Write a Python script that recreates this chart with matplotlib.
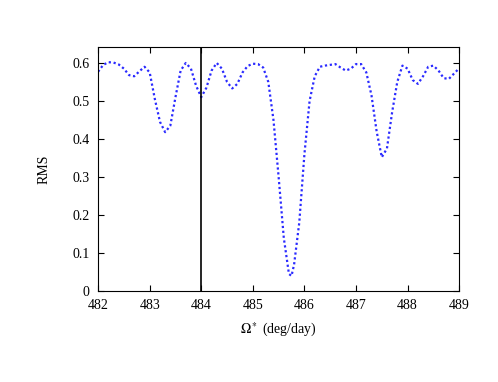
import matplotlib
matplotlib.use("Agg")
from matplotlib import pyplot as plt

omega = [482.0, 482.1, 482.2, 482.3, 482.4, 482.5, 482.6, 482.7, 482.8, 482.9,
         483.0, 483.1, 483.2, 483.3, 483.4, 483.5, 483.6, 483.7, 483.8, 483.9,
         484.0, 484.1, 484.2, 484.3, 484.4, 484.5, 484.6, 484.7, 484.8, 484.9,
         485.0, 485.1, 485.2, 485.3, 485.4, 485.5, 485.6, 485.7, 485.75, 485.8, 485.9,
         486.0, 486.1, 486.2, 486.3, 486.4, 486.5, 486.6, 486.7, 486.8, 486.9,
         487.0, 487.1, 487.2, 487.3, 487.4, 487.5, 487.6, 487.7, 487.8, 487.9,
         488.0, 488.1, 488.2, 488.3, 488.4, 488.5, 488.6, 488.7, 488.8, 488.9,
         489.0]
rms = [0.577, 0.595, 0.602, 0.601, 0.596, 0.585, 0.568, 0.565, 0.578, 0.590,
       0.575, 0.505, 0.445, 0.418, 0.435, 0.510, 0.580, 0.600, 0.585, 0.540,
       0.510, 0.535, 0.580, 0.600, 0.585, 0.550, 0.533, 0.545, 0.575, 0.592,
       0.598, 0.597, 0.588, 0.550, 0.450, 0.300, 0.140, 0.045, 0.040, 0.070, 0.180,
       0.360, 0.500, 0.565, 0.590, 0.593, 0.595, 0.597, 0.588, 0.580, 0.585,
       0.597, 0.597, 0.575, 0.515, 0.420, 0.352, 0.375, 0.470, 0.550, 0.593,
       0.585, 0.555, 0.545, 0.565, 0.590, 0.593, 0.580, 0.560, 0.558, 0.572,
       0.586]
marker_x = 484.0

plt.rcParams['font.family'] = ['Liberation Serif', 'DejaVu Serif']
plt.rcParams['mathtext.fontset'] = 'stix'

fig = plt.figure(figsize=(4.98, 3.82), dpi=100)
ax = fig.add_axes([0.197, 0.238, 0.725, 0.639])

ax.plot(omega, rms, linestyle=(0, (1, 1.2)), color='#2a2aff', linewidth=1.6)
ax.axvline(marker_x, color='black', linewidth=1.2)

ax.set_xlim(482, 489)
ax.set_ylim(0, 0.642)
ax.set_xticks(range(482, 490))
ax.set_yticks([0, 0.1, 0.2, 0.3, 0.4, 0.5, 0.6])
ax.set_yticklabels(['0', '0.1', '0.2', '0.3', '0.4', '0.5', '0.6'])
ax.tick_params(direction='in', top=True, right=True, labelsize=10, length=4, width=0.8)
ax.tick_params(axis='x', pad=6)
ax.tick_params(axis='y', pad=6)
ax.set_xlabel(r'$\Omega^*$ (deg/day)', fontsize=10, labelpad=6)
ax.set_ylabel('RMS', fontsize=10, labelpad=16)

fig.savefig('out.png', dpi=100)
